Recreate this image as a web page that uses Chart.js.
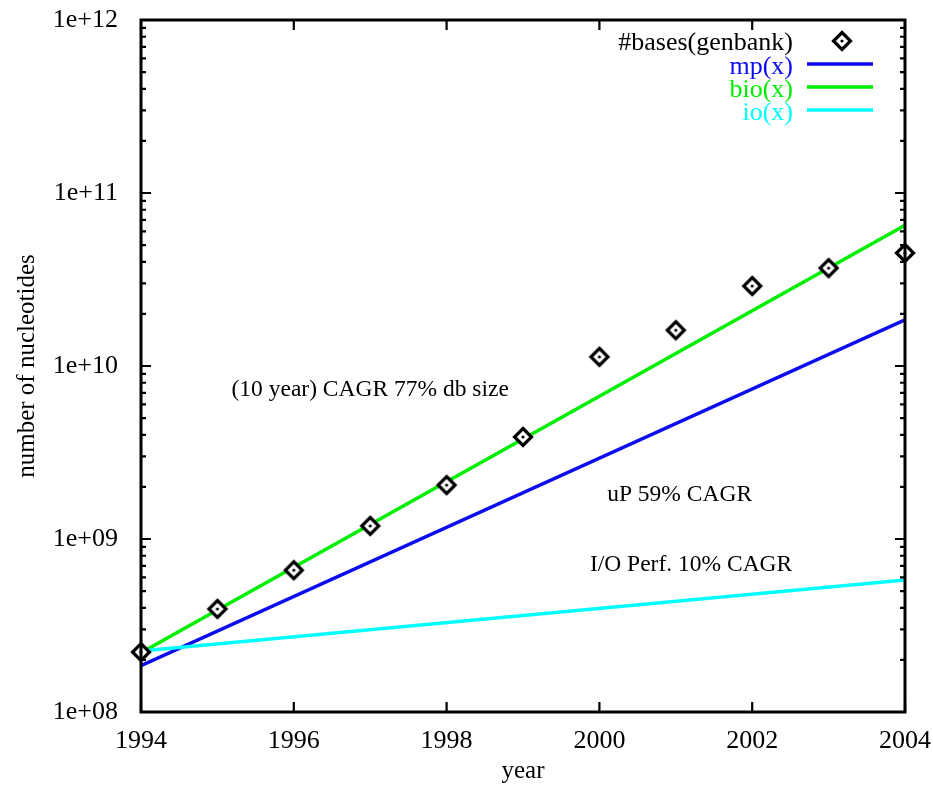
<!DOCTYPE html>
<html>
<head>
<meta charset="utf-8">
<script src="https://cdn.jsdelivr.net/npm/chart.js@4.4.1/dist/chart.umd.min.js"></script>
<style>
  html, body { margin: 0; padding: 0; background: #fff; }
  #wrap { width: 933px; height: 785px; }
</style>
</head>
<body>
<div id="wrap"><canvas id="chart" width="933" height="785"></canvas></div>
<script>
// genbank size per year
const years = [1994, 1995, 1996, 1997, 1998, 1999, 2000, 2001, 2002, 2003, 2004];
const genbankBases = [2.22e8, 3.94e8, 6.6e8, 1.19e9, 2.05e9, 3.89e9, 1.13e10, 1.61e10, 2.9e10, 3.68e10, 4.5e10];

// fitted growth curves, end points only
const fitYears = [1994, 2004];
const mpFit = [1.85e8, 1.85e10];
const bioFit = [2.2e8, 6.5e10];
const ioFit = [2.25e8, 5.8e8];

const xTicks = [1994, 1996, 1998, 2000, 2002, 2004];
const yDecades = [8, 9, 10, 11, 12];

const notes = [
  { text: "(10 year) CAGR 77% db size", x: 1997.0, y: 7.3e9 },
  { text: "uP 59% CAGR", x: 2001.05, y: 1.8e9 },
  { text: "I/O Perf. 10% CAGR", x: 2001.2, y: 7.1e8 },
];

const FONT = "'Liberation Serif', 'DejaVu Serif', serif";
const BLUE = "#0c0cf0";
const GREEN = "#00ee00";
const CYAN = "#00ffff";

// diamond marker with a dot in the middle
function makeMarker() {
  const c = document.createElement("canvas");
  c.width = 24; c.height = 24;
  const g = c.getContext("2d");
  g.lineWidth = 3.2;
  g.strokeStyle = "#000";
  g.fillStyle = "#fff";
  g.beginPath();
  g.moveTo(12, 3.5); g.lineTo(20.5, 12); g.lineTo(12, 20.5); g.lineTo(3.5, 12); g.closePath();
  g.fill(); g.stroke();
  g.fillStyle = "#000";
  g.beginPath(); g.arc(12, 12, 1.6, 0, Math.PI * 2); g.fill();
  return c;
}
const marker = makeMarker();

const pairs = (xs, ys) => xs.map((x, i) => ({ x: x, y: ys[i] }));

const legendItems = [
  { label: "#bases(genbank)", color: "#000", kind: "point" },
  { label: "mp(x)", color: BLUE, kind: "line" },
  { label: "bio(x)", color: GREEN, kind: "line" },
  { label: "io(x)", color: CYAN, kind: "line" },
];

// frame, inward ticks, legend, notes and axis titles
const gnuplotLook = {
  id: "gnuplotLook",
  afterDatasetsDraw(chart) {
    const ctx = chart.ctx;
    const a = chart.chartArea;
    const xs = chart.scales.x, ys = chart.scales.y;
    ctx.save();
    ctx.strokeStyle = "#000";
    ctx.lineWidth = 2.2;
    ctx.beginPath();
    xTicks.forEach(v => {
      const px = xs.getPixelForValue(v);
      ctx.moveTo(px, a.bottom); ctx.lineTo(px, a.bottom - 10);
      ctx.moveTo(px, a.top); ctx.lineTo(px, a.top + 10);
    });
    ys.ticks.forEach(t => {
      const py = ys.getPixelForValue(t.value);
      const len = t.major ? 10 : 5;
      ctx.moveTo(a.left, py); ctx.lineTo(a.left + len, py);
      ctx.moveTo(a.right, py); ctx.lineTo(a.right - len, py);
    });
    ctx.stroke();
    ctx.lineWidth = 3;
    ctx.strokeRect(a.left, a.top, a.right - a.left, a.bottom - a.top);

    // legend
    ctx.font = "26px " + FONT;
    ctx.textAlign = "right";
    ctx.textBaseline = "middle";
    const rowY = [a.top + 23, a.top + 47, a.top + 70, a.top + 93];
    legendItems.forEach((it, i) => {
      const y = rowY[i];
      ctx.fillStyle = it.color;
      ctx.fillText(it.label, a.right - 112, y);
      if (it.kind === "line") {
        ctx.strokeStyle = it.color;
        ctx.lineWidth = 3.5;
        ctx.beginPath();
        ctx.moveTo(a.right - 98, y - 3); ctx.lineTo(a.right - 32, y - 3);
        ctx.stroke();
      } else {
        ctx.drawImage(marker, a.right - 63 - 12, y - 14);
      }
    });

    // notes
    ctx.fillStyle = "#000";
    ctx.font = "23.5px " + FONT;
    ctx.textAlign = "center";
    notes.forEach(n => {
      ctx.fillText(n.text, xs.getPixelForValue(n.x), ys.getPixelForValue(n.y));
    });

    // axis titles
    ctx.font = "25px " + FONT;
    ctx.fillText("year", (a.left + a.right) / 2, 771);
    ctx.translate(27, (a.top + a.bottom) / 2);
    ctx.rotate(-Math.PI / 2);
    ctx.fillText("number of nucleotides", 0, 0);
    ctx.restore();
  },
};

const lineStyle = (color) => ({
  borderColor: color,
  backgroundColor: color,
  borderWidth: 3.5,
  pointRadius: 0,
  showLine: true,
  fill: false,
  tension: 0,
});

new Chart(document.getElementById("chart"), {
  type: "scatter",
  data: {
    datasets: [
      { label: "mp(x)", data: pairs(fitYears, mpFit), ...lineStyle(BLUE), order: 3 },
      { label: "bio(x)", data: pairs(fitYears, bioFit), ...lineStyle(GREEN), order: 2 },
      { label: "io(x)", data: pairs(fitYears, ioFit), ...lineStyle(CYAN), order: 1 },
      {
        label: "#bases(genbank)",
        data: pairs(years, genbankBases),
        pointStyle: marker,
        pointRadius: 9,
        showLine: false,
        clip: false,
        order: 0,
      },
    ],
  },
  options: {
    responsive: false,
    animation: false,
    layout: { padding: { left: 0, right: 28, top: 20, bottom: 0 } },
    plugins: { legend: { display: false }, tooltip: { enabled: false } },
    scales: {
      x: {
        type: "linear",
        min: 1994,
        max: 2004,
        afterBuildTicks: (s) => { s.ticks = xTicks.map(v => ({ value: v })); },
        afterFit: (s) => { s.height = 73; s.paddingLeft = 0; s.paddingRight = 0; },
        ticks: {
          color: "#000",
          font: { family: FONT, size: 26 },
          padding: 6,
          maxRotation: 0,
          callback: (v) => String(v),
        },
        grid: { display: false },
        border: { display: false },
      },
      y: {
        type: "logarithmic",
        min: 1e8,
        max: 1e12,
        afterBuildTicks: (s) => {
          const t = [];
          yDecades.forEach(e => {
            for (let m = 1; m <= 9; m++) {
              if (e === 12 && m > 1) break;
              t.push({ value: m * Math.pow(10, e), major: m === 1 });
            }
          });
          s.ticks = t;
        },
        afterFit: (s) => { s.width = 141; s.paddingTop = 0; s.paddingBottom = 0; },
        ticks: {
          color: "#000",
          font: { family: FONT, size: 26 },
          padding: 15,
          autoSkip: false,
          callback: (v) => {
            const e = Math.round(Math.log10(v));
            return Math.abs(v - Math.pow(10, e)) < 1 ? "1e+" + String(e).padStart(2, "0") : "";
          },
        },
        grid: { display: false },
        border: { display: false },
      },
    },
  },
  plugins: [gnuplotLook],
});
</script>
</body>
</html>
